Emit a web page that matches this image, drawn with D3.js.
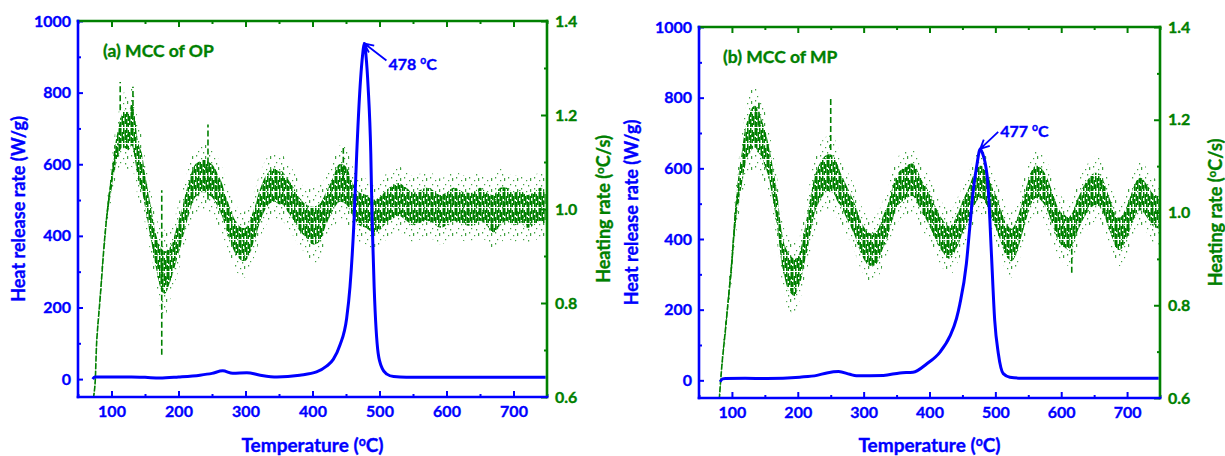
<!DOCTYPE html>
<html>
<head>
<meta charset="utf-8">
<script src="https://cdn.jsdelivr.net/npm/d3@7"></script>
<style>
  body { margin: 0; background: #fff; }
  text { font-family: Lato, "Open Sans", sans-serif; font-weight: bold; }
</style>
</head>
<body>
<script>
// ---- panel (a) MCC of OP ----
const tempRateA = [71,75,78,83,90,95,100,105,110,115,
  120,125,130,135,140,145,150,155,160,165,
  170,175,180,185,190,195,200,205,210,215,
  220,225,230,235,240,245,250,255,260,265,
  270,275,280,285,290,295,300,305,310,315,
  320,325,330,335,340,345,350,355,360,365,
  370,380,390,400,410,420,430,440,450,460,
  470,480,490,500,510,520,530,540,550,560,
  570,580,590,600,610,620,630,640,650,660,
  670,680,690,700,710,720,730,740,748];
const heatRateA = [0.58,0.62,0.72,0.81,0.94,1.01,1.06,1.11,1.14,1.165,
  1.17,1.165,1.18,1.15,1.10,1.08,1.04,1.00,0.96,0.92,
  0.89,0.87,0.865,0.875,0.89,0.915,0.94,0.965,0.995,1.02,
  1.045,1.06,1.065,1.07,1.07,1.065,1.06,1.05,1.035,1.02,
  0.995,0.975,0.955,0.94,0.93,0.925,0.925,0.935,0.955,0.975,
  1.0,1.02,1.035,1.045,1.05,1.05,1.045,1.045,1.035,1.025,
  1.015,0.99,0.975,0.965,0.97,1.0,1.03,1.055,1.05,1.02,
  1.0,0.995,0.985,0.99,1.005,1.015,1.02,1.01,1.0,1.005,
  1.01,1.005,0.995,1.0,1.01,1.005,1.0,1.0,1.01,1.0,
  0.99,1.005,1.01,1.0,1.005,0.995,1.0,1.01,1.0];
const heatSpreadA = [0.005,0.006,0.008,0.01,0.012,0.015,0.02,0.025,0.03,0.035,
  0.04,0.04,0.045,0.045,0.04,0.04,0.035,0.035,0.035,0.035,
  0.04,0.045,0.045,0.04,0.035,0.035,0.035,0.035,0.035,0.035,
  0.035,0.035,0.035,0.035,0.035,0.035,0.035,0.035,0.035,0.035,
  0.035,0.035,0.035,0.035,0.035,0.035,0.035,0.035,0.035,0.035,
  0.035,0.035,0.035,0.035,0.035,0.035,0.035,0.035,0.035,0.035,
  0.035,0.035,0.035,0.04,0.04,0.035,0.035,0.04,0.04,0.035,
  0.035,0.035,0.035,0.035,0.035,0.035,0.035,0.035,0.035,0.035,
  0.035,0.035,0.035,0.035,0.035,0.035,0.035,0.035,0.035,0.035,
  0.04,0.04,0.035,0.035,0.035,0.035,0.035,0.035,0.035];
const spikeTempA = [113, 132, 175, 244, 446];
const spikeLoA = [1.21, 1.20, 0.69, 1.02, 1.06];
const spikeHiA = [1.27, 1.26, 1.04, 1.18, 1.13];

const tempHrrA = [72,75,90,110,130,150,172,200,232,250,266,281,302,322,347,381,406,421,431,441,
  451,456,462,466,471,474,477.5,480,483,487,489,492,498,504,511,521,540,600,650,700,748];
const hrrA = [0,6,6,6,6,5,3,6,11,16,23,16,18,11,6,11,20,36,55,95,
  170,258,444,630,816,890,937,900,816,630,444,258,72,30,14,7,5,5,5,5,5];

// ---- panel (b) MCC of MP ----
const tempRateB = [80,83,86,90,95,100,105,110,115,120,
  125,130,135,140,145,150,155,160,165,170,
  175,180,185,190,195,200,205,210,215,220,
  225,230,235,240,245,250,255,260,265,270,
  275,280,285,290,295,300,305,310,315,320,
  325,330,335,340,345,350,355,360,365,370,
  375,380,385,390,395,400,405,410,415,420,
  425,430,435,440,445,450,455,460,465,470,
  475,480,485,490,495,500,505,510,515,520,
  525,530,535,540,545,550,555,560,565,570,
  575,580,585,590,595,600,605,610,615,620,
  625,630,635,640,645,650,655,660,665,670,
  675,680,685,690,695,700,705,710,715,720,
  725,730,735,740,748];
const heatRateB = [0.58,0.64,0.69,0.745,0.82,0.895,0.99,1.05,1.095,1.14,
  1.165,1.18,1.185,1.175,1.16,1.14,1.115,1.08,1.04,0.99,
  0.93,0.895,0.875,0.865,0.86,0.87,0.89,0.925,0.96,1.0,
  1.035,1.055,1.07,1.08,1.085,1.085,1.08,1.065,1.05,1.035,
  1.02,1.005,0.99,0.97,0.95,0.935,0.925,0.92,0.92,0.925,
  0.94,0.96,0.975,1.0,1.025,1.045,1.055,1.06,1.065,1.07,
  1.07,1.06,1.045,1.03,1.02,1.005,0.99,0.975,0.96,0.95,
  0.94,0.935,0.94,0.955,0.97,0.99,1.005,1.02,1.04,1.055,
  1.065,1.065,1.055,1.04,1.02,1.005,0.985,0.965,0.945,0.935,
  0.93,0.94,0.96,0.985,1.01,1.035,1.055,1.065,1.065,1.06,
  1.05,1.035,1.015,0.995,0.975,0.965,0.96,0.955,0.96,0.975,
  0.995,1.01,1.025,1.035,1.045,1.05,1.05,1.045,1.03,1.01,
  0.99,0.97,0.955,0.955,0.965,0.98,1.0,1.02,1.035,1.04,
  1.035,1.025,1.015,1.005,1.0];
const heatSpreadB = [0.005,0.008,0.01,0.012,0.015,0.02,0.025,0.03,0.035,0.04,
  0.04,0.045,0.045,0.045,0.04,0.04,0.035,0.035,0.035,0.035,
  0.035,0.035,0.04,0.04,0.04,0.035,0.035,0.035,0.04,0.04,
  0.04,0.04,0.04,0.04,0.04,0.04,0.04,0.04,0.035,0.035,
  0.035,0.035,0.035,0.035,0.035,0.035,0.035,0.035,0.035,0.035,
  0.035,0.035,0.035,0.035,0.035,0.035,0.035,0.035,0.035,0.035,
  0.035,0.035,0.035,0.035,0.035,0.035,0.035,0.035,0.035,0.035,
  0.035,0.035,0.035,0.035,0.035,0.035,0.035,0.035,0.035,0.035,
  0.035,0.035,0.035,0.035,0.035,0.035,0.035,0.035,0.035,0.035,
  0.035,0.035,0.035,0.035,0.035,0.035,0.035,0.035,0.035,0.035,
  0.035,0.035,0.035,0.035,0.035,0.035,0.035,0.035,0.035,0.035,
  0.035,0.035,0.035,0.035,0.035,0.035,0.035,0.035,0.035,0.035,
  0.035,0.035,0.035,0.035,0.035,0.035,0.035,0.035,0.035,0.035,
  0.035,0.035,0.035,0.035,0.035];
const spikeTempB = [141, 250, 616];
const spikeLoB = [1.185, 1.135, 0.87];
const spikeHiB = [1.24, 1.25, 0.93];

const tempHrrB = [82,86,90,120,153,203,229,244,262,279,289,330,355,375,396,416,431,441,446,456,
  461,466,472,477,481,484,489,494,499,504.5,512,522,540,600,650,748];
const hrrB = [-4,4,5,6,5,9,14,21,25,17,13,14,21,23,47,80,125,175,215,330,
  430,530,610,655,640,620,548,359,170,76,19,9,6,6,6,6];

// shared ticks
const tempTicks = [100, 200, 300, 400, 500, 600, 700];
const tempMinor = [50, 150, 250, 350, 450, 550, 650, 750];
const hrrTicks = [0, 200, 400, 600, 800, 1000];
const hrrMinor = [100, 300, 500, 700, 900];
const rateTicks = [0.6, 0.8, 1.0, 1.2, 1.4];
const rateMinor = [0.7, 0.9, 1.1, 1.3];

const BLUE = '#0000ff';
const GREEN = '#008000';

const svg = d3.select('body').append('svg').attr('width', 1225).attr('height', 456);
const defs = svg.append('defs');

// texture of the noisy heating-rate scatter
const dash = defs.append('pattern').attr('id', 'dashes')
  .attr('patternUnits', 'userSpaceOnUse').attr('width', 12).attr('height', 16);
[[0, 0, 8], [0, 10, 5], [1.5, 4, 9], [3, 0, 6], [3, 9, 6], [4.5, 2, 10], [6, 0, 5], [6, 7, 8],
 [7.5, 2, 7], [7.5, 11, 4], [9, 4, 9], [10.5, 0, 7], [10.5, 9, 6]]
  .forEach(r => dash.append('rect').attr('x', r[0]).attr('y', r[1]).attr('width', 1.5).attr('height', r[2]).attr('fill', GREEN));
const dots = defs.append('pattern').attr('id', 'dots')
  .attr('patternUnits', 'userSpaceOnUse').attr('width', 13).attr('height', 11);
[[1, 1, 1.5], [6, 4, 1.2], [10, 2, 3], [3, 8, 1.2], [8, 9, 1.5]]
  .forEach(r => dots.append('rect').attr('x', r[0]).attr('y', r[1]).attr('width', 1.2).attr('height', r[2]).attr('fill', GREEN).attr('opacity', 0.75));

function supText(sel, before, after) {
  sel.append('tspan').text(before);
  sel.append('tspan').attr('dy', -6).attr('font-size', '0.65em').text('o');
  sel.append('tspan').attr('dy', 6).text(after);
}

// bold the Lato glyphs a bit, closer to the heavy original face
function heavy(sel, color) {
  sel.attr('fill', color).attr('stroke', color).attr('stroke-width', 0.35);
}

function drawPanel(p) {
  const x = d3.scaleLinear().domain([50, 750]).range([p.left, p.right]);
  const yL = d3.scaleLinear().domain([-50, 1000]).range([p.bottom, p.top]);
  const yR = d3.scaleLinear().domain([0.6, 1.4]).range([p.bottom, p.top]);

  defs.append('clipPath').attr('id', p.id + '-clip')
    .append('rect').attr('x', p.left).attr('y', p.top)
    .attr('width', p.right - p.left).attr('height', p.bottom - p.top);

  const g = svg.append('g');
  const plot = g.append('g').attr('clip-path', `url(#${p.id}-clip)`);

  const rate = p.rateT.map((t, i) => ({ t: t, v: p.rate[i], s: p.spread[i] }));

  // sparse halo of scattered points
  plot.append('path').datum(rate)
    .attr('d', d3.area().curve(d3.curveCatmullRom)
      .x(d => x(d.t)).y0(d => yR(d.v - d.s * 2)).y1(d => yR(d.v + d.s * 2)))
    .attr('fill', 'url(#dots)');

  // dense core of dashes
  plot.append('path').datum(rate)
    .attr('d', d3.area().curve(d3.curveCatmullRom)
      .x(d => x(d.t)).y0(d => yR(d.v - d.s)).y1(d => yR(d.v + d.s)))
    .attr('fill', 'url(#dashes)');

  // thin trace keeps the steep initial rise continuous
  plot.append('path').datum(rate.filter(d => d.t <= 110))
    .attr('d', d3.line().curve(d3.curveCatmullRom).x(d => x(d.t)).y(d => yR(d.v)))
    .attr('fill', 'none').attr('stroke', GREEN).attr('stroke-width', 1.6)
    .attr('stroke-dasharray', '6 1.5');

  plot.selectAll('.spike').data(p.spikeT).enter().append('line')
    .attr('x1', d => x(d)).attr('x2', d => x(d))
    .attr('y1', (d, i) => yR(p.spikeLo[i])).attr('y2', (d, i) => yR(p.spikeHi[i]))
    .attr('stroke', GREEN).attr('stroke-width', 1.6).attr('stroke-dasharray', '6 3');

  // heat release rate
  const hrr = p.hrrT.map((t, i) => ({ t: t, v: p.hrr[i] }));
  plot.append('path').datum(hrr)
    .attr('d', d3.line().curve(d3.curveMonotoneX).x(d => x(d.t)).y(d => yL(d.v)))
    .attr('fill', 'none').attr('stroke', BLUE).attr('stroke-width', 3)
    .attr('stroke-linejoin', 'round');

  // axes: ticks point inward
  const ax = (sel, color) => {
    sel.select('.domain').remove();
    sel.selectAll('line').attr('stroke', color).attr('stroke-width', 2);
    sel.selectAll('text').attr('font-size', 16).call(heavy, color)
      .style('font-family', 'Lato, sans-serif').style('font-weight', 'bold');
  };
  g.append('g').attr('transform', `translate(0,${p.bottom})`)
    .call(d3.axisBottom(x).tickValues(tempTicks).tickSize(-6).tickPadding(9).tickFormat(d3.format('d')))
    .call(s => ax(s, BLUE));
  g.append('g').attr('transform', `translate(0,${p.bottom})`)
    .call(d3.axisBottom(x).tickValues(tempMinor).tickSize(-3).tickFormat(''))
    .call(s => ax(s, BLUE));
  g.append('g').attr('transform', `translate(0,${p.top})`)
    .call(d3.axisTop(x).tickValues(tempTicks).tickSize(-6).tickFormat(''))
    .call(s => ax(s, GREEN));
  g.append('g').attr('transform', `translate(0,${p.top})`)
    .call(d3.axisTop(x).tickValues(tempMinor).tickSize(-3).tickFormat(''))
    .call(s => ax(s, GREEN));
  g.append('g').attr('transform', `translate(${p.left},0)`)
    .call(d3.axisLeft(yL).tickValues(hrrTicks).tickSize(-5).tickPadding(7).tickFormat(d3.format('d')))
    .call(s => ax(s, BLUE));
  g.append('g').attr('transform', `translate(${p.left},0)`)
    .call(d3.axisLeft(yL).tickValues(hrrMinor).tickSize(-3).tickFormat(''))
    .call(s => ax(s, BLUE));
  g.append('g').attr('transform', `translate(${p.right},0)`)
    .call(d3.axisRight(yR).tickValues(rateTicks).tickSize(-6).tickPadding(8).tickFormat(d3.format('.1f')))
    .call(s => ax(s, GREEN));
  g.append('g').attr('transform', `translate(${p.right},0)`)
    .call(d3.axisRight(yR).tickValues(rateMinor).tickSize(-3).tickFormat(''))
    .call(s => ax(s, GREEN));

  // frame
  const frame = [
    [p.left, p.top, p.right, p.top, GREEN],
    [p.right, p.top, p.right, p.bottom, GREEN],
    [p.left, p.bottom, p.right, p.bottom, BLUE],
    [p.left, p.top, p.left, p.bottom, BLUE]
  ];
  g.selectAll('.frame').data(frame).enter().append('line')
    .attr('x1', d => d[0]).attr('y1', d => d[1]).attr('x2', d => d[2]).attr('y2', d => d[3])
    .attr('stroke', d => d[4]).attr('stroke-width', 2.6).attr('stroke-linecap', 'square');

  const midY = (p.top + p.bottom) / 2;
  g.append('text').attr('x', (p.left + p.right) / 2).attr('y', 452)
    .attr('text-anchor', 'middle').attr('font-size', 19).call(heavy, BLUE)
    .call(s => supText(s, 'Temperature (', 'C)'));
  g.append('text').attr('transform', `translate(${p.leftTitleX},${midY}) rotate(-90)`)
    .attr('text-anchor', 'middle').attr('font-size', 18).call(heavy, BLUE)
    .text('Heat release rate (W/g)');
  g.append('text').attr('transform', `translate(${p.rightTitleX},${midY}) rotate(-90)`)
    .attr('text-anchor', 'middle').attr('font-size', 18).call(heavy, GREEN)
    .call(s => supText(s, 'Heating rate (', 'C/s)'));

  g.append('text').attr('x', p.labelX).attr('y', p.labelY)
    .attr('font-size', 17.5).call(heavy, GREEN).text(p.label);

  // peak annotation with arrow
  const tipX = x(p.peakT), tipY = yL(p.peakV);
  const fromX = tipX + p.arrowDx, fromY = tipY + p.arrowDy;
  const ang = Math.atan2(fromY - tipY, fromX - tipX);
  const head = 10, spread = 0.45;
  g.append('path')
    .attr('d', `M${fromX},${fromY}L${tipX},${tipY}` +
      `M${tipX + head * Math.cos(ang - spread)},${tipY + head * Math.sin(ang - spread)}L${tipX},${tipY}` +
      `L${tipX + head * Math.cos(ang + spread)},${tipY + head * Math.sin(ang + spread)}`)
    .attr('fill', 'none').attr('stroke', BLUE).attr('stroke-width', 1.8);
  g.append('text').attr('x', fromX + 2).attr('y', p.peakTextY)
    .attr('font-size', 16).call(heavy, BLUE)
    .call(s => supText(s, p.peakLabel + ' ', 'C'));
}

drawPanel({
  id: 'a', left: 78, right: 547, top: 21, bottom: 397,
  rateT: tempRateA, rate: heatRateA, spread: heatSpreadA,
  spikeT: spikeTempA, spikeLo: spikeLoA, spikeHi: spikeHiA,
  hrrT: tempHrrA, hrr: hrrA,
  leftTitleX: 25, rightTitleX: 610,
  label: '(a) MCC of OP', labelX: 103, labelY: 57,
  peakT: 477.5, peakV: 937, peakLabel: '478', arrowDx: 22, arrowDy: 17, peakTextY: 70
});

drawPanel({
  id: 'b', left: 699, right: 1160, top: 27, bottom: 398,
  rateT: tempRateB, rate: heatRateB, spread: heatSpreadB,
  spikeT: spikeTempB, spikeLo: spikeLoB, spikeHi: spikeHiB,
  hrrT: tempHrrB, hrr: hrrB,
  leftTitleX: 638, rightTitleX: 1222,
  label: '(b) MCC of MP', labelX: 723, labelY: 63,
  peakT: 477, peakV: 655, peakLabel: '477', arrowDx: 18, arrowDy: -17, peakTextY: 137
});
</script>
</body>
</html>
